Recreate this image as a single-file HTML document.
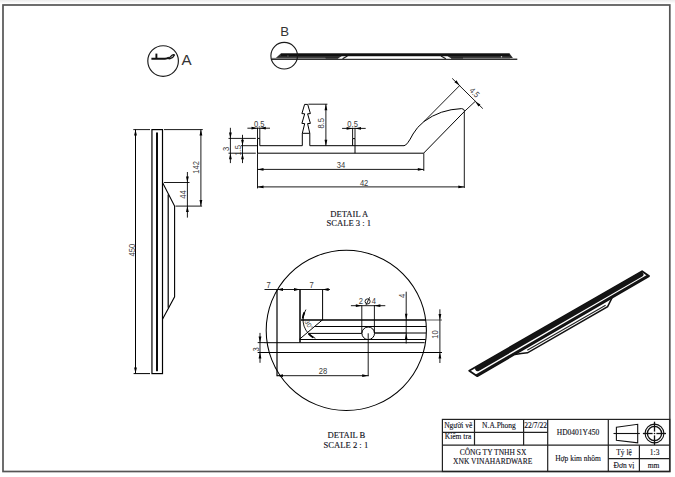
<!DOCTYPE html>
<html><head><meta charset="utf-8">
<style>
html,body{margin:0;padding:0;background:#fff;width:675px;height:477px;overflow:hidden}
svg{display:block}
.s{font-family:"Liberation Sans",sans-serif;fill:#3a3a3a}
.t{font-family:"Liberation Serif",serif;fill:#10101a;stroke:#10101a;stroke-width:0.12px}
</style></head><body>
<svg width="675" height="477" viewBox="0 0 675 477">
<defs>
<linearGradient id="tg" x1="0" y1="0" x2="0" y2="1">
<stop offset="0" stop-color="#ececec"/><stop offset="1" stop-color="#fff"/>
</linearGradient>
</defs>
<rect x="0" y="0" width="675" height="3.5" fill="url(#tg)"/>
<!-- frame -->
<rect x="3" y="5" width="666.8" height="466.5" fill="none" stroke="#555" stroke-width="1.7"/>

<!-- title block -->
<g stroke="#222" stroke-width="1.2" fill="none">
<rect x="442.4" y="419.4" width="227.4" height="52.1"/>
<line x1="442.4" y1="432.4" x2="547.7" y2="432.4"/>
<line x1="442.4" y1="445.2" x2="669.8" y2="445.2"/>
<line x1="608.3" y1="458.6" x2="669.8" y2="458.6"/>
<line x1="474.5" y1="419.4" x2="474.5" y2="445.2"/>
<line x1="523.6" y1="419.4" x2="523.6" y2="445.2"/>
<line x1="547.7" y1="419.4" x2="547.7" y2="471.5"/>
<line x1="608.3" y1="419.4" x2="608.3" y2="471.5"/>
<line x1="639.4" y1="445.2" x2="639.4" y2="471.5"/>
</g>
<g class="t" font-size="7.5" text-anchor="middle">
<text x="458.3" y="428">Người vẽ</text>
<text x="499" y="428">N.A.Phong</text>
<text x="535.6" y="428">22/7/22</text>
<text x="458" y="439">Kiểm tra</text>
<text x="493" y="454.5">CÔNG TY TNHH SX</text>
<text x="492.7" y="463.5">XNK VINAHARDWARE</text>
<text x="578" y="434.5">HD0401Y450</text>
<text x="578" y="461">Hợp kim nhôm</text>
<text x="624" y="455">Tỷ lệ</text>
<text x="654.6" y="455">1:3</text>
<text x="624" y="467.5">Đơn vị</text>
<text x="653.5" y="467.5">mm</text>
</g>



<!-- title symbols -->
<g fill="none" stroke="#111" stroke-width="1.1">
<path d="M616.4 427.2 L637.7 424.3 V442.8 L616.4 440.2 Z"/>
<line x1="613.5" y1="433.5" x2="639.8" y2="433.5"/>
<circle cx="654.5" cy="433.5" r="9.4"/>
<circle cx="654.5" cy="433.5" r="7.1" stroke-width="1.3"/>
<line x1="642.9" y1="433.5" x2="666" y2="433.5" stroke-width="1.3"/>
<line x1="654.5" y1="421.7" x2="654.5" y2="445.1" stroke-width="1.3"/>
</g>
<rect x="652.6" y="431.6" width="3.8" height="3.8" fill="#fff"/><circle cx="654.5" cy="433.5" r="0.8" fill="#111"/>
<!-- ===== view A marker ===== -->
<circle cx="163.1" cy="61" r="15.3" fill="none" stroke="#1a1a1a" stroke-width="1.15"/>
<g fill="none" stroke="#111" stroke-width="1.9">
<path d="M151.4 58.8 H165 Q167 58.8 169 57.5"/>
<path d="M156.4 53.6 V58.8"/>
</g>
<path d="M168.5 58.6 L172 55.2 Q174 54 174.5 55 Q173.5 57.5 170 58.8 Z" fill="none" stroke="#111" stroke-width="1.2"/>
<text transform="translate(181.6 64.6) scale(1.15 1.04)" font-family="Liberation Sans" font-size="13.2" fill="#333">A</text>

<!-- ===== view B marker ===== -->
<text x="280.2" y="35.6" font-family="Liberation Sans" font-size="13.2" fill="#333">B</text>
<g>
<path d="M275.9 57.9 L280.7 53.5 H509.6 L512.9 57.9 Z" fill="#2c2c2c"/>
<rect x="272" y="57.8" width="53.5" height="0.9" fill="#9a9a9a"/>
<rect x="325.5" y="57.8" width="13" height="0.9" fill="#262626"/>
<rect x="451" y="57.8" width="12" height="0.9" fill="#262626"/>
<rect x="463" y="57.8" width="47" height="0.9" fill="#9a9a9a"/>
<rect x="272" y="58.6" width="245.3" height="1.3" fill="#1a1a1a"/>
<path d="M337.8 58.6 L341.8 56.2 H447.5 L451.5 58.6 Z" fill="#fff"/>
<line x1="342.6" y1="58.8" x2="347.4" y2="56.0" stroke="#1a1a1a" stroke-width="1.3"/>
<line x1="441.0" y1="56.0" x2="445.8" y2="58.8" stroke="#1a1a1a" stroke-width="1.3"/>
<rect x="281" y="53.5" width="228.6" height="2.5" fill="#111"/>
<path d="M286.6 56.6 L287.9 55.2 L289.2 56.6 Z" fill="#bbb" stroke="#111" stroke-width="0.5"/>
<circle cx="501.5" cy="56.8" r="0.7" fill="#ccc"/>
</g>
<circle cx="284.2" cy="55.7" r="13.3" fill="none" stroke="#1a1a1a" stroke-width="1.15"/>

<!-- ===== vertical view (450) ===== -->
<g fill="none" stroke="#000" stroke-width="1">
<rect x="151.95" y="129.6" width="10.55" height="244" stroke-width="1.2"/>
<line x1="157" y1="133.1" x2="157" y2="370.4" stroke-width="1.9" stroke-linecap="round"/>
<path d="M162.5 182.5 L174.6 206.1 V296.8 L162.5 319.3" stroke-width="1.1"/>
<path d="M168.2 194.6 V307.8" stroke-width="1.2"/>
<!-- dims -->
<line x1="133.3" y1="129.6" x2="150" y2="129.6" stroke-width="0.9"/>
<line x1="133.6" y1="373.6" x2="150" y2="373.6" stroke-width="1"/>
<line x1="135.5" y1="129.6" x2="135.5" y2="373.6" stroke-width="1"/>
<line x1="164" y1="129.6" x2="202.8" y2="129.6" stroke-width="0.9"/>
<line x1="200.9" y1="129.6" x2="200.9" y2="206.1" stroke-width="0.9"/>
<line x1="164" y1="182.5" x2="189.5" y2="182.5" stroke-width="0.9"/>
<line x1="175.5" y1="206.1" x2="202.1" y2="206.1" stroke-width="0.9"/>
<line x1="187.4" y1="172" x2="187.4" y2="217.6" stroke-width="0.9"/>
</g>
<g fill="#000">
<path d="M135.5 129.6 l-1.4 6 h2.8z"/>
<path d="M135.5 373.6 l-1.4 -6 h2.8z"/>
<path d="M200.9 129.6 l-1.4 6 h2.8z"/>
<path d="M200.9 206.1 l-1.4 -6 h2.8z"/>
<path d="M187.4 182.5 l-1.4 -6 h2.8z"/>
<path d="M187.4 206.1 l-1.4 6 h2.8z"/>
</g>
<g class="s" font-size="8" text-anchor="middle">
<text transform="translate(134.79 250.20) rotate(-90) scale(0.95 1.15)">450</text>
<text transform="translate(199.49 167.30) rotate(-90) scale(0.95 1.15)">142</text>
<text transform="translate(186.29 194.60) rotate(-90) scale(0.95 1.15)">44</text>
</g>

<!-- ===== DETAIL A ===== -->
<g fill="none" stroke="#000" stroke-width="1">
<!-- part -->
<path d="M257.5 138.4 V153.2 H423.6 L464.7 111.2 Q464 108.6 461.5 108.6 Q440 109.5 424 121.5 Q417 127 413 134 Q407 145.7 404 145.7 H309.8 V133.3 L307.6 123.6 L310.4 123.4 L307.6 113.8 L310.4 113.6 L307.7 104.4 H304.6 L301.9 113.6 L304.7 113.8 L301.9 123.4 L304.7 123.6 L302.3 133.3 V145.7 H259.8 V138.4 Z"/>
<line x1="302.3" y1="133.3" x2="309.8" y2="133.3"/>
<path d="M352.6 145.7 V138.6 H355"/>
<line x1="355" y1="138.6" x2="355" y2="153.2"/>
<!-- dims 3 / 1.5 -->
<g stroke-width="0.9">
<line x1="228.5" y1="138.4" x2="255.8" y2="138.4"/>
<line x1="228.5" y1="153.2" x2="255.8" y2="153.2"/>
<line x1="241" y1="145.7" x2="257.5" y2="145.7"/>
<line x1="230.4" y1="127.8" x2="230.4" y2="163.1"/>
<line x1="242.5" y1="134.8" x2="242.5" y2="163.1"/>
<!-- 0.5 left -->
<line x1="257.5" y1="127.7" x2="257.5" y2="138.4"/>
<line x1="259.8" y1="127.7" x2="259.8" y2="138.4"/>
<line x1="247.4" y1="128.2" x2="270" y2="128.2"/>
<!-- 8.5 -->
<line x1="308.4" y1="104.2" x2="327.4" y2="104.2"/>
<line x1="325.9" y1="104.2" x2="325.9" y2="145.7"/>
<!-- 0.5 right -->
<line x1="352.6" y1="127.8" x2="352.6" y2="138.6"/>
<line x1="355" y1="127.8" x2="355" y2="138.6"/>
<line x1="342.1" y1="128.4" x2="365.7" y2="128.4"/>
<!-- 34 / 42 -->
<line x1="257.5" y1="153.2" x2="257.5" y2="188.4"/>
<line x1="423.8" y1="153.2" x2="423.8" y2="171"/>
<line x1="464.3" y1="111.5" x2="464.3" y2="188"/>
<line x1="257.5" y1="169.4" x2="423.8" y2="169.4"/>
<line x1="257.5" y1="186.9" x2="464.3" y2="186.9"/>
<!-- 4.5 -->
<line x1="424" y1="121.5" x2="459.7" y2="85.5"/>
<line x1="464.7" y1="111.2" x2="475.2" y2="101.4"/>
<line x1="452.2" y1="78.4" x2="482.8" y2="108.6"/>
</g>
</g>
<g fill="#000">
<path d="M230.4 138.4 l-1.4 -6 h2.8z"/>
<path d="M230.4 153.2 l-1.4 6 h2.8z"/>
<path d="M242.5 145.7 l-1.4 -6 h2.8z"/>
<path d="M242.5 153.2 l-1.4 6 h2.8z"/>
<path d="M257.5 128.2 l-6 -1.4 v2.8z"/>
<path d="M259.8 128.2 l6 -1.4 v2.8z"/>
<path d="M352.6 128.4 l-6 -1.4 v2.8z"/>
<path d="M355 128.4 l6 -1.4 v2.8z"/>
<path d="M325.9 104.2 l-1.4 6 h2.8z"/>
<path d="M325.9 145.7 l-1.4 -6 h2.8z"/>
<path d="M257.5 169.4 l6 -1.4 v2.8z"/>
<path d="M423.8 169.4 l-6 -1.4 v2.8z"/>
<path d="M257.5 186.9 l6 -1.4 v2.8z"/>
<path d="M464.3 186.9 l-6 -1.4 v2.8z"/>
<path d="M459.7 85.5 L454.45 82.28 L456.41 80.28 Z"/>
<path d="M475.2 101.4 L478.49 106.62 L480.45 104.62 Z"/>
</g>
<g class="s" font-size="8" text-anchor="middle">
<text transform="translate(259.20 127.29) scale(0.95 1.15)">0.5</text>
<text transform="translate(352.60 127.49) scale(0.95 1.15)">0.5</text>
<text transform="translate(229.09 149.00) rotate(-90) scale(0.95 1.15)">3</text>
<text transform="translate(241.29 150.30) rotate(-90) scale(0.95 1.15)">1.5</text>
<text transform="translate(324.39 123.20) rotate(-90) scale(0.95 1.15)">8.5</text>
<text transform="translate(341.05 168.44) scale(0.95 1.15)">34</text>
<text transform="translate(364.10 186.44) scale(0.95 1.15)">42</text>
<text transform="translate(472.5 94.6) rotate(45) scale(0.9 1.05)">4.5</text>
</g>
<g class="t" font-size="8.6" text-anchor="middle">
<text x="349.3" y="217.2">DETAIL A</text>
<text x="348.8" y="226.1">SCALE 3 : 1</text>
<text x="346.4" y="438">DETAIL B</text>
<text x="345.9" y="447.8">SCALE 2 : 1</text>
</g>

<!-- ===== DETAIL B ===== -->
<circle cx="346.3" cy="330.4" r="80.1" fill="none" stroke="#000" stroke-width="1.05"/>
<g fill="none" stroke="#000" stroke-width="1">
<line x1="301" y1="320" x2="426" y2="320" stroke-width="1.3"/><line x1="426" y1="320" x2="442" y2="320" stroke-width="0.8" stroke="#333"/>
<line x1="315.2" y1="326.5" x2="426.2" y2="326.5"/>
<line x1="308.9" y1="333.4" x2="361.9" y2="333.4"/>
<line x1="374.5" y1="333" x2="406" y2="333" stroke-width="1.4"/><line x1="406" y1="333" x2="426" y2="333" stroke-width="1"/>
<line x1="300" y1="339.5" x2="425.7" y2="339.5"/>
<line x1="264.7" y1="342.7" x2="424.6" y2="342.7"/>
<line x1="257.7" y1="352.5" x2="442" y2="352.5"/>
<line x1="257.7" y1="342.6" x2="265" y2="342.6" stroke-width="0.9"/>
<line x1="300" y1="289.5" x2="300" y2="342.5" stroke-width="1.5"/>
<line x1="322.6" y1="289.5" x2="322.6" y2="319.7"/>
<line x1="299.4" y1="339.3" x2="323" y2="319.4"/>
<path d="M305.9 309.6 A19.9 19.9 0 0 0 315.4 338.3" stroke-width="0.9"/>
<path d="M304.4 312.4 A19.9 19.9 0 0 0 302.7 318.5" stroke-width="1.9"/>
<path d="M308.6 333.6 A19.9 19.9 0 0 0 313.2 337.5" stroke-width="1.9"/>
<circle cx="368.2" cy="333.3" r="6.3"/>
<g stroke-width="0.9">
<line x1="277" y1="289.5" x2="277" y2="376.2" stroke-width="1.2"/>
<line x1="264.5" y1="289.5" x2="330" y2="289.5"/>
<line x1="361.8" y1="305.2" x2="361.8" y2="333"/>
<line x1="374.4" y1="305.2" x2="374.4" y2="333"/>
<line x1="350.9" y1="305.7" x2="385.3" y2="305.7"/>
<line x1="368.2" y1="333.3" x2="368.2" y2="376.2"/>
<line x1="277" y1="375.7" x2="368.5" y2="375.7"/>
<line x1="406.2" y1="291.7" x2="406.2" y2="343.5"/>
<line x1="439.9" y1="309.3" x2="439.9" y2="363"/>
<line x1="260" y1="332.9" x2="260" y2="362.8"/>
</g>
</g>
<g fill="#000">
<path d="M277 289.5 l6 -1.4 v2.8z"/>
<path d="M300 289.5 l-6 -1.4 v2.8z"/>
<path d="M322.6 289.5 l6 -1.4 v2.8z"/>
<path d="M361.8 305.7 l-6 -1.4 v2.8z"/>
<path d="M374.4 305.7 l6 -1.4 v2.8z"/>
<path d="M277 375.7 l6 -1.4 v2.8z"/>
<path d="M368.2 375.7 l-6 -1.4 v2.8z"/>
<path d="M406.2 320 l-1.3 -6.2 h2.6z"/>
<path d="M406.2 333 l-1.3 6.2 h2.6z"/>
<path d="M439.9 320 l-1.4 -6 h2.8z"/>
<path d="M439.9 352.5 l-1.4 6 h2.8z"/>
<path d="M260 342.6 l-1.4 -6 h2.8z"/>
<path d="M260 352.5 l-1.4 6 h2.8z"/>
</g>
<g class="s" font-size="8" text-anchor="middle">
<text transform="translate(268.60 288.09) scale(0.95 1.15)">7</text>
<text transform="translate(311.60 288.09) scale(0.95 1.15)">7</text>
<text transform="translate(360.80 304.49) scale(0.95 1.15)">2</text><text transform="translate(373.80 304.49) scale(0.95 1.15)">4</text>
<text transform="translate(322.90 374.19) scale(0.95 1.15)">28</text>
<text transform="translate(405.39 296.00) rotate(-90) scale(0.95 1.15)">4</text>
<text transform="translate(438.49 334.50) rotate(-90) scale(0.95 1.15)">10</text>
<text transform="translate(259.09 349.30) rotate(-90) scale(0.95 1.15)">3</text>
<text transform="translate(304.2 321.8) rotate(57)" font-size="6.6" text-anchor="start">30°</text>
</g>

<g fill="none" stroke="#151515" stroke-width="0.95"><circle cx="367.6" cy="301.4" r="2.55"/><line x1="365.9" y1="305.3" x2="369.6" y2="297.3"/></g>
<!-- ===== isometric view ===== -->
<g>
<path d="M469.20 370.70 L642.10 271.20 L649.00 276.10 L477.30 376.20 Z" fill="#fff" stroke="#111" stroke-width="1.8" stroke-linejoin="round"/>
<line x1="477.60" y1="368.80" x2="641.07" y2="274.37" stroke="#151515" stroke-width="4.9" stroke-linecap="round"/>
<polygon points="475.27,367.21 639.07,272.95 641.14,274.42 477.68,368.85" fill="#151515"/>
<polygon points="475.23,374.80 647.24,274.85 649.00,276.10 477.30,376.20" fill="#151515"/>
<path d="M612.00 297.90 L607.60 306.70 L527.50 352.80 Q521 353.6 515.00 354.40" fill="none" stroke="#111" stroke-width="1.5"/>
<line x1="527.24" y1="350.35" x2="605.61" y2="305.25" stroke="#222" stroke-width="1.1"/>
</g>
</svg>
</body></html>
